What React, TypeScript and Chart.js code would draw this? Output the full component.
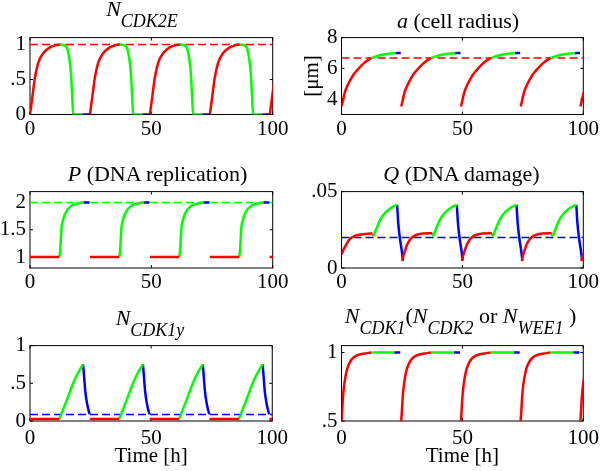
import React, { useEffect, useRef } from 'react';
import { Chart, registerables } from 'chart.js';

Chart.register(...registerables);

const RED = '#ff0000';
const GREEN = '#00ff00';
const BLUE = '#0000ff';
const FONT = '"Liberation Serif", "Times New Roman", serif';
Chart.defaults.font.family = FONT;

// ---------- data (time in hours within a cycle, value) ----------
const cycleStarts = [0, 24.7, 49.4, 74.1, 98.8];
const xTicks = [0, 50, 100];
const xLabels = ['0', '50', '100'];

// N_CDK2E
const cdk2eG1 = [[0, 0], [0.5, 0.13], [1, 0.26], [2, 0.52], [3.4, 0.74], [5.5, 0.88], [8.2, 0.96], [10.5, 0.99], [12.3, 1.0]];
const cdk2eS = [[12.3, 1.0], [14.4, 0.99], [15.3, 0.95], [15.8, 0.88], [16.4, 0.75], [16.8, 0.62], [17.1, 0.45], [17.4, 0.25], [17.8, 0], [21.6, 0]];
const cdk2eG2M = [[21.6, 0], [24.5, 0]];
const cdk2eRef = 1;
const cdk2eYTicks = [0, 0.5, 1];
const cdk2eYLabels = ['0', '.5', '1'];

// a (cell radius)
const radiusG1 = [[0, 3.52], [0.5, 3.85], [1.4, 4.45], [2.4, 4.85], [3.5, 5.2], [5, 5.6], [6.3, 5.85], [8, 6.15], [9.7, 6.4], [12.3, 6.67]];
const radiusS = [[12.3, 6.67], [14, 6.76], [16, 6.85], [18.5, 6.93], [20.5, 6.97], [22.3, 6.99]];
const radiusG2M = [[22.3, 6.99], [24.5, 7.0]];
const radiusRef = 6.67;
const radiusYTicks = [4, 6, 8];
const radiusYLabels = ['4', '6', '8'];

// P (DNA replication)
const replG1 = [[0, 1], [12.1, 1]];
const replS = [[12.1, 1], [12.4, 1.1], [12.7, 1.33], [13, 1.55], [13.6, 1.68], [14.4, 1.79], [15.4, 1.87], [16.5, 1.92], [18, 1.96], [19.5, 1.98], [22.1, 2]];
const replG2M = [[22.1, 2], [24.5, 2]];
const replRef = 2;
const replYTicks = [1, 1.5, 2];
const replYLabels = ['1', '1.5', '2'];

// Q (DNA damage)
const damageG1First = [[0, 0.009], [1, 0.0125], [2, 0.0155], [3.5, 0.019], [5.5, 0.021], [7.6, 0.0217], [10, 0.0223], [12.8, 0.0226]];
const damageG1 = [[0.5, 0.0045], [0.8, 0.0075], [1.2, 0.0095], [1.6, 0.0115], [2.5, 0.0155], [3.6, 0.0185], [4.8, 0.0205], [6.5, 0.0218], [9, 0.0226], [12.8, 0.0228]];
const damageS = [[12.8, 0.0226], [13.2, 0.0211], [13.8, 0.0232], [14.9, 0.0275], [16, 0.0315], [17.2, 0.0345], [18.6, 0.037], [20, 0.0388], [21.5, 0.0403], [23.0, 0.0413]];
const damageG2M = [[23.0, 0.0413], [23.2, 0.036], [23.4, 0.0307], [24.1, 0.02], [24.9, 0.0115], [25.4, 0.005]];
const damageRef = 0.02;
const damageYTicks = [0, 0.05];
const damageYLabels = ['0', '.05'];

// N_CDK1y
const cdk1yG1 = [[0, 0.025], [12.1, 0.025]];
const cdk1yS = [[12.1, 0.025], [13.5, 0.14], [15.1, 0.27], [16.5, 0.39], [17.8, 0.5], [19.2, 0.6], [20.6, 0.68], [21.9, 0.75]];
const cdk1yG2M = [[21.9, 0.75], [22.1, 0.68], [22.4, 0.56], [22.8, 0.4], [23.5, 0.24], [24.1, 0.15], [24.6, 0.09]];
const cdk1yRef = 0.085;
const cdk1yYTicks = [0, 0.5, 1];
const cdk1yYLabels = ['0', '.5', '1'];

// N_CDK1
const cdk1G1 = [[0, 0.5], [0.3, 0.58], [0.6, 0.67], [0.95, 0.74], [1.5, 0.81], [2.35, 0.88], [3.5, 0.93], [5.1, 0.965], [7.5, 0.985], [10.6, 0.995], [12.3, 1.0]];
const cdk1S = [[12.3, 1], [21.8, 1]];
const cdk1G2M = [[21.8, 1], [24.3, 1]];
const cdk1YTicks = [0.5, 1];
const cdk1YLabels = ['.5', '1'];

// ---------- helpers ----------
function cyclePoints(shape: number[][], first?: number[][]) {
  const out: { x: number; y: number | null }[] = [];
  cycleStarts.forEach((s, i) => {
    const sh = i === 0 && first ? first : shape;
    sh.forEach(([t, v]) => out.push({ x: s + t, y: v }));
    out.push({ x: s + sh[sh.length - 1][0] + 0.01, y: null });
  });
  return out;
}

type Series = { shape: number[][]; first?: number[][]; color: string };
type PanelDef = {
  id: string;
  rect: { l: number; t: number; r: number; b: number };
  padL: number;
  xh: number;
  tickPad: number;
  yMin: number;
  yMax: number;
  yTicks: number[];
  yLabels: string[];
  series: Series[];
  ref?: { value: number; color: string };
  xTitle?: string;
  yTitle?: string;
};

const LEFT = { l: 30, r: 272.7 };
const RIGHT = { l: 341.5, r: 583.3 };
const ROW1 = { t: 35.7, b: 114.5 };
const ROW2 = { t: 189.7, b: 268 };
const ROW3 = { t: 343.3, b: 421 };

const panels: PanelDef[] = [
  {
    id: 'cdk2e', rect: { ...LEFT, ...ROW1 }, padL: 30, xh: 30, tickPad: 2,
    yMin: 0, yMax: 1.1, yTicks: cdk2eYTicks, yLabels: cdk2eYLabels,
    series: [{ shape: cdk2eG1, color: RED }, { shape: cdk2eS, color: GREEN }, { shape: cdk2eG2M, color: BLUE }],
    ref: { value: cdk2eRef, color: RED },
  },
  {
    id: 'radius', rect: { ...RIGHT, ...ROW1 }, padL: 45, xh: 30, tickPad: 2,
    yMin: 3, yMax: 8, yTicks: radiusYTicks, yLabels: radiusYLabels,
    series: [{ shape: radiusG1, color: RED }, { shape: radiusS, color: GREEN }, { shape: radiusG2M, color: BLUE }],
    ref: { value: radiusRef, color: RED },
    yTitle: '[\u03bcm]',
  },
  {
    id: 'repl', rect: { ...LEFT, ...ROW2 }, padL: 30, xh: 30, tickPad: 2,
    yMin: 0.8, yMax: 2.2, yTicks: replYTicks, yLabels: replYLabels,
    series: [{ shape: replG1, color: RED }, { shape: replS, color: GREEN }, { shape: replG2M, color: BLUE }],
    ref: { value: replRef, color: GREEN },
  },
  {
    id: 'damage', rect: { ...RIGHT, ...ROW2 }, padL: 45, xh: 30, tickPad: 2,
    yMin: 0, yMax: 0.05, yTicks: damageYTicks, yLabels: damageYLabels,
    series: [{ shape: damageG1, first: damageG1First, color: RED }, { shape: damageS, color: GREEN }, { shape: damageG2M, color: BLUE }],
    ref: { value: damageRef, color: BLUE },
  },
  {
    id: 'cdk1y', rect: { ...LEFT, ...ROW3 }, padL: 30, xh: 48, tickPad: 5,
    yMin: 0, yMax: 1, yTicks: cdk1yYTicks, yLabels: cdk1yYLabels,
    series: [{ shape: cdk1yG1, color: RED }, { shape: cdk1yS, color: GREEN }, { shape: cdk1yG2M, color: BLUE }],
    ref: { value: cdk1yRef, color: BLUE },
    xTitle: 'Time [h]',
  },
  {
    id: 'cdk1', rect: { ...RIGHT, ...ROW3 }, padL: 45, xh: 48, tickPad: 5,
    yMin: 0.5, yMax: 1.05, yTicks: cdk1YTicks, yLabels: cdk1YLabels,
    series: [{ shape: cdk1G1, color: RED }, { shape: cdk1S, color: GREEN }, { shape: cdk1G2M, color: BLUE }],
    xTitle: 'Time [h]',
  },
];

const boxPlugin = {
  id: 'matlabBox',
  beforeDatasetsDraw(chart: any) {
    const { ctx, chartArea: a, scales } = chart;
    ctx.save();
    ctx.strokeStyle = '#000';
    ctx.lineWidth = 1;
    ctx.strokeRect(a.left, a.top, a.right - a.left, a.bottom - a.top);
    const tl = 3;
    ctx.beginPath();
    scales.x.ticks.forEach((t: any) => {
      const px = scales.x.getPixelForValue(t.value);
      ctx.moveTo(px, a.bottom); ctx.lineTo(px, a.bottom - tl);
      ctx.moveTo(px, a.top); ctx.lineTo(px, a.top + tl);
    });
    scales.y.ticks.forEach((t: any) => {
      const py = scales.y.getPixelForValue(t.value);
      ctx.moveTo(a.left, py); ctx.lineTo(a.left + tl, py);
      ctx.moveTo(a.right, py); ctx.lineTo(a.right - tl, py);
    });
    ctx.stroke();
    ctx.restore();
  },
};

function Panel({ def }: { def: PanelDef }) {
  const ref = useRef<HTMLCanvasElement>(null);
  const { rect, padL, xh } = def;
  const cLeft = Math.floor(rect.l - padL);
  const cTop = Math.floor(rect.t - 14);
  const width = Math.ceil(rect.r + 20) - cLeft;
  const height = Math.ceil(rect.b + xh) - cTop;
  const padLeft = rect.l - padL - cLeft;
  const padTop = rect.t - cTop;
  const padRight = cLeft + width - rect.r;
  const xAxisH = cTop + height - rect.b;

  useEffect(() => {
    const datasets: any[] = def.series.map((s) => ({
      data: cyclePoints(s.shape, s.first),
      borderColor: s.color,
      backgroundColor: s.color,
      borderWidth: 2.5,
      pointRadius: 0,
      fill: false,
      spanGaps: false,
      cubicInterpolationMode: 'monotone',
    }));
    if (def.ref) {
      datasets.push({
        data: [{ x: 0, y: def.ref.value }, { x: 100, y: def.ref.value }],
        borderColor: def.ref.color,
        borderWidth: 1.5,
        borderDash: [8, 4],
        pointRadius: 0,
        fill: false,
      });
    }
    const chart = new Chart(ref.current as HTMLCanvasElement, {
      type: 'line',
      data: { datasets },
      plugins: [boxPlugin],
      options: {
        responsive: false,
        animation: false,
        devicePixelRatio: 1,
        layout: { padding: { left: padLeft, top: padTop, right: padRight, bottom: 0 } },
        plugins: { legend: { display: false }, tooltip: { enabled: false } },
        scales: {
          x: {
            type: 'linear',
            min: 0,
            max: 100,
            afterBuildTicks: (s: any) => { s.ticks = xTicks.map((v) => ({ value: v })); },
            afterFit: (s: any) => { s.height = xAxisH; },
            ticks: {
              autoSkip: false,
              maxRotation: 0,
              padding: def.tickPad,
              color: '#000',
              font: { size: 21, family: FONT },
              callback: (v: any) => xLabels[xTicks.indexOf(Number(v))] ?? '',
            },
            grid: { display: false, drawTicks: false },
            border: { display: false },
            title: {
              display: !!def.xTitle,
              text: def.xTitle || '',
              color: '#000',
              font: { size: 21, family: FONT },
              padding: { top: 0, bottom: 0 },
            },
          },
          y: {
            type: 'linear',
            min: def.yMin,
            max: def.yMax,
            afterBuildTicks: (s: any) => { s.ticks = def.yTicks.map((v) => ({ value: v })); },
            afterFit: (s: any) => { s.width = padL; },
            ticks: {
              autoSkip: false,
              padding: 4,
              color: '#000',
              font: { size: 21, family: FONT },
              callback: (v: any) => {
                const i = def.yTicks.findIndex((t) => Math.abs(t - Number(v)) < 1e-9);
                return i >= 0 ? def.yLabels[i] : '';
              },
            },
            grid: { display: false, drawTicks: false },
            border: { display: false },
            title: {
              display: !!def.yTitle,
              text: def.yTitle || '',
              color: '#000',
              font: { size: 21, family: FONT },
              padding: { top: 3, bottom: 0 },
            },
          },
        },
      } as any,
    });
    return () => chart.destroy();
  }, []);

  return (
    <canvas
      ref={ref}
      width={width}
      height={height}
      style={{ position: 'absolute', left: cLeft, top: cTop, width, height, display: 'block' }}
    />
  );
}

const I = ({ children }: { children: any }) => <span style={{ fontStyle: 'italic' }}>{children}</span>;
const Sub = ({ children }: { children: any }) => (
  <span style={{ fontStyle: 'italic', fontSize: 18, position: 'relative', top: 11 }}>{children}</span>
);
const Title = ({ cx, base, children }: { cx: number; base: number; children: any }) => (
  <div
    style={{
      position: 'absolute',
      left: cx,
      top: base - 18.4,
      transform: 'translateX(-50%)',
      whiteSpace: 'pre',
      fontFamily: FONT,
      fontSize: 22,
      lineHeight: '22px',
      color: '#000',
    }}
  >
    {children}
  </div>
);

export default function App() {
  return (
    <div style={{ position: 'absolute', left: 0, top: 0, width: 600, height: 471, overflow: 'hidden', background: '#fff' }}>
      {panels.map((p) => <Panel key={p.id} def={p} />)}
      <Title cx={142} base={16.5}><I>N</I><Sub>CDK2E</Sub></Title>
      <Title cx={458} base={28}><I>a</I> (cell radius)</Title>
      <Title cx={157.5} base={181.7}><I>P</I> (DNA replication)</Title>
      <Title cx={461.5} base={181.7}><I>Q</I> (DNA damage)</Title>
      <Title cx={150} base={325}><I>N</I><Sub>CDK1y</Sub></Title>
      <Title cx={460.5} base={323.5}><I>N</I><Sub>CDK1</Sub>(<I>N</I><Sub>CDK2</Sub> or <I>N</I><Sub>WEE1</Sub> )</Title>
    </div>
  );
}
